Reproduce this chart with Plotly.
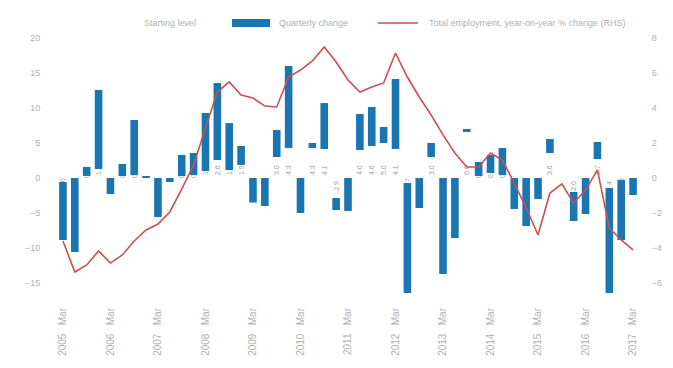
import plotly.graph_objects as go

# Quarterly categories (49 quarters)
quarters = [f"Q{q} {y}" for y in range(2005, 2018) for q in range(1, 5)][:49]

# Year tick labels shown every fourth quarter
tick_quarters = quarters[::4]
tick_labels = [f"{q.split()[1]}   Mar" for q in tick_quarters]

# Hidden offset series (stacked underneath the visible bars)
base_values = [
    -0.57, 0.00, 0.29, 1.29, 0.00, 0.29, 0.43, 0.00, 0.00, 0.00,
    0.29, 0.43, 1.00, 2.57, 1.14, 1.86, 0.00, 0.00, 3.00, 4.29,
    0.00, 4.29, 4.14, -2.86, 0.00, 4.00, 4.57, 5.00, 4.14, -0.71,
    0.00, 3.00, 0.00, 0.00, 6.57, 0.29, 0.71, 0.43, 0.00, 0.00,
    0.00, 3.57, 0.00, -2.00, 0.00, 2.71, -1.43, -0.29, 0.00,
]

# Visible quarterly change (left axis)
change_values = [
    -8.29, -10.57, 1.29, 11.29, -2.29, 1.71, 7.86, 0.25, -5.57, -0.57,
    3.00, 3.14, 8.29, 11.00, 6.71, 2.71, -3.50, -4.00, 3.86, 11.71,
    -5.00, 0.71, 6.57, -1.71, -4.71, 5.14, 5.57, 2.29, 10.00, -15.71,
    -4.29, 2.00, -13.71, -8.57, 0.43, 2.00, 2.57, 3.86, -4.43, -6.86,
    -3.00, 2.00, 0.00, -4.14, -5.14, 2.43, -15.00, -8.57, -2.43,
]

# Annual growth line (right axis)
total_growth = [
    -3.60, -5.37, -4.97, -4.17, -4.86, -4.40, -3.60, -2.97, -2.63, -1.94,
    -0.63, 0.74, 2.86, 4.91, 5.49, 4.74, 4.57, 4.11, 4.06, 5.77,
    6.17, 6.69, 7.49, 6.63, 5.60, 4.91, 5.20, 5.43, 7.14, 5.77,
    4.63, 3.60, 2.46, 1.43, 0.63, 0.63, 1.43, 1.03, -0.29, -1.71,
    -3.26, -0.86, -0.34, -1.43, -0.69, 0.46, -2.86, -3.54, -4.11,
]

series_names = [
    "Starting level",
    "Quarterly change",
    "Total employment, year-on-year % change (RHS)",
]

left_ticks = [-15, -10, -5, 0, 5, 10, 15, 20]
right_ticks = [-6, -4, -2, 0, 2, 4, 6, 8]

BLUE = "#1a76b2"
RED = "#cc4f4f"
GREY = "#b0b0b0"

fig = go.Figure()

fig.add_trace(go.Bar(
    x=quarters, y=base_values, name=series_names[0],
    marker=dict(color="rgba(255,255,255,0)", line=dict(width=0)),
    text=[f"{v:.1f}" for v in base_values],
    textposition="inside", insidetextanchor="start", textangle=-90,
    textfont=dict(size=7, color="#a0a0a0", family="Arial"),
    showlegend=False,
))

fig.add_trace(go.Bar(
    x=quarters, y=change_values, name=series_names[1],
    marker=dict(color=BLUE, line=dict(width=0)),
    showlegend=False,
))

fig.add_trace(go.Scatter(
    x=quarters, y=total_growth, name=series_names[2], yaxis="y2",
    mode="lines", line=dict(color=RED, width=1.6),
    showlegend=False,
))

# Legend drawn by hand: wide swatches in a single row above the plot
legend_font = dict(size=9, color=GREY, family="Arial")
shapes = [
    dict(type="rect", xref="paper", yref="paper",
         x0=(232 - 57) / 582, x1=(270 - 57) / 582,
         y0=(298 - 27) / 268, y1=(298 - 19) / 268,
         fillcolor=BLUE, line=dict(width=0)),
    dict(type="line", xref="paper", yref="paper",
         x0=(378 - 57) / 582, x1=(418 - 57) / 582,
         y0=(298 - 23) / 268, y1=(298 - 23) / 268,
         line=dict(color=RED, width=1.6)),
]
annotations = [
    dict(text=series_names[0], xref="paper", yref="paper",
         x=(142 - 57) / 582, y=(298 - 23) / 268, xanchor="left", yanchor="middle",
         showarrow=False, font=legend_font),
    dict(text=series_names[1], xref="paper", yref="paper",
         x=(277 - 57) / 582, y=(298 - 23) / 268, xanchor="left", yanchor="middle",
         showarrow=False, font=legend_font),
    dict(text=series_names[2], xref="paper", yref="paper",
         x=(427 - 57) / 582, y=(298 - 23) / 268, xanchor="left", yanchor="middle",
         showarrow=False, font=legend_font),
]

fig.update_layout(
    width=673, height=368,
    margin=dict(l=57, r=34, t=30, b=70),
    paper_bgcolor="white", plot_bgcolor="white",
    barmode="relative", bargap=0.36,
    uniformtext=dict(minsize=7, mode="show"),
    font=dict(family="Arial", size=9, color=GREY),
    showlegend=False,
    shapes=shapes, annotations=annotations,
    xaxis=dict(
        type="category", categoryorder="array", categoryarray=quarters,
        tickmode="array", tickvals=tick_quarters, ticktext=tick_labels,
        tickangle=-90, showgrid=False, zeroline=False, showline=False,
        ticks="outside", ticklen=5, tickcolor="rgba(0,0,0,0)",
        tickfont=dict(size=10, color=GREY),
    ),
    yaxis=dict(
        range=[-120 / 7, 148 / 7], tickmode="array", tickvals=left_ticks,
        showgrid=False, zeroline=False, showline=False,
        ticks="outside", ticklen=14, tickcolor="rgba(0,0,0,0)",
        tickfont=dict(size=9, color=GREY),
    ),
    yaxis2=dict(
        range=[-120 / 17.5, 148 / 17.5], tickmode="array", tickvals=right_ticks,
        overlaying="y", side="right",
        showgrid=False, zeroline=False, showline=False,
        ticks="outside", ticklen=10, tickcolor="rgba(0,0,0,0)",
        tickfont=dict(size=9, color=GREY),
    ),
)

fig.write_html("out.html")
